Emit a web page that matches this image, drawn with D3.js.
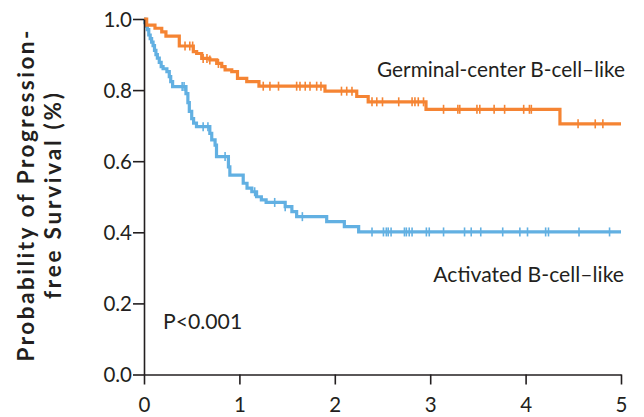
<!DOCTYPE html>
<html>
<head>
<meta charset="utf-8">
<script src="https://cdn.jsdelivr.net/npm/d3@7"></script>
<style>
  body { margin: 0; background: #fff; }
  svg text { font-family: Lato, "Open Sans", sans-serif; fill: #231f20; }
</style>
</head>
<body>
<div id="chart"></div>
<script>
// Kaplan-Meier steps (years, survival)
var gcbTimes = [0, 0.028, 0.115, 0.186, 0.23, 0.37, 0.517, 0.552, 0.605, 0.69, 0.762, 0.815, 0.85, 0.92, 0.98, 1.077, 1.205, 1.897, 2.23, 2.35, 2.956, 4.36];
var gcbSurv  = [1.0, 0.983, 0.974, 0.964, 0.952, 0.924, 0.908, 0.903, 0.889, 0.885, 0.875, 0.866, 0.857, 0.852, 0.833, 0.824, 0.811, 0.797, 0.782, 0.767, 0.746, 0.705];
var gcbCensored = [0.43, 0.48, 0.51, 0.62, 0.66, 0.69, 0.78, 1.25, 1.32, 1.41, 1.60, 1.635, 1.69, 1.74, 1.81, 1.855,
  2.07, 2.125, 2.18, 2.39, 2.44, 2.50, 2.67, 2.81, 2.84, 2.875, 2.93, 3.14, 3.29, 3.31, 3.49, 3.52, 3.67, 3.78,
  3.98, 4.04, 4.06, 4.55, 4.73, 4.81];

var abcTimes = [0, 0.01, 0.02, 0.035, 0.05, 0.065, 0.08, 0.095, 0.11, 0.125, 0.14, 0.16, 0.18, 0.2, 0.24, 0.265, 0.28, 0.30,
  0.44, 0.46, 0.475, 0.50, 0.52, 0.55, 0.69, 0.71, 0.745, 0.76, 0.885, 0.90, 1.04, 1.08, 1.13, 1.18, 1.23, 1.28,
  1.48, 1.55, 1.60, 1.915, 2.10, 2.25];
var abcSurv  = [1.0, 0.99, 0.98, 0.97, 0.955, 0.945, 0.935, 0.925, 0.912, 0.9, 0.89, 0.878, 0.866, 0.86, 0.852, 0.838, 0.824, 0.81,
  0.79, 0.765, 0.74, 0.72, 0.707, 0.697, 0.678, 0.66, 0.645, 0.613, 0.584, 0.561, 0.538, 0.524, 0.514, 0.50, 0.491, 0.484,
  0.472, 0.458, 0.444, 0.43, 0.416, 0.401];
var abcCensored = [0.40, 0.42, 0.62, 0.67, 0.85, 1.16, 1.37, 1.48, 1.66, 2.39, 2.51, 2.54, 2.56, 2.59, 2.73, 2.75, 2.78, 2.81,
  2.96, 2.99, 3.14, 3.36, 3.43, 3.53, 3.76, 3.94, 4.02, 4.21, 4.24, 4.56, 4.88];

var xTicks = [0, 1, 2, 3, 4, 5];
var yTicks = [0, 0.2, 0.4, 0.6, 0.8, 1.0];
var maxYears = 5;

var svgWidth = 644;
var svgHeight = 417;

var margin = { top: 19, right: 23, bottom: 42.5, left: 144 };
var width = svgWidth - margin.left - margin.right;
var height = svgHeight - margin.top - margin.bottom;

var svg = d3.select("#chart")
  .append("svg")
  .attr("width", svgWidth)
  .attr("height", svgHeight);

var chartGroup = svg.append("g")
  .attr("transform", `translate(${margin.left}, ${margin.top})`);

var xScale = d3.scaleLinear().domain([0, maxYears]).range([0, width]);
var yScale = d3.scaleLinear().domain([0, 1]).range([height, 0]);

// survival value at time t (step function)
function survAt(times, surv, t) {
  var i = d3.bisectRight(times, t) - 1;
  return surv[Math.max(i, 0)];
}

var line = d3.line()
  .x(d => xScale(d[0]))
  .y(d => yScale(d[1]))
  .curve(d3.curveStepAfter);

function drawCurve(times, surv, censored, color) {
  var pts = times.map((t, i) => [t, surv[i]]);
  pts.push([maxYears, surv[surv.length - 1]]);

  chartGroup.append("path")
    .datum(pts)
    .attr("fill", "none")
    .attr("stroke", color)
    .attr("stroke-width", 3.2)
    .attr("d", line);

  chartGroup.selectAll(null)
    .data(censored)
    .enter()
    .append("line")
    .attr("x1", d => xScale(d))
    .attr("x2", d => xScale(d))
    .attr("y1", d => yScale(survAt(times, surv, d)) - 4.5)
    .attr("y2", d => yScale(survAt(times, surv, d)) + 4.5)
    .attr("stroke", color)
    .attr("stroke-width", 1.6);
}

drawCurve(abcTimes, abcSurv, abcCensored, "#62b0e2");
drawCurve(gcbTimes, gcbSurv, gcbCensored, "#f58433");

// axes
var bottomAxis = d3.axisBottom(xScale)
  .tickValues(xTicks)
  .tickFormat(d3.format("d"))
  .tickSize(10)
  .tickSizeOuter(0);

var leftAxis = d3.axisLeft(yScale)
  .tickValues(yTicks)
  .tickFormat(d3.format(".1f"))
  .tickSize(11)
  .tickSizeOuter(0);

var xAxis = chartGroup.append("g")
  .attr("transform", `translate(0, ${height})`)
  .call(bottomAxis);

var yAxis = chartGroup.append("g")
  .call(leftAxis);

[xAxis, yAxis].forEach(function(ax) {
  ax.select(".domain").attr("stroke", "#231f20").attr("stroke-width", 1.6);
  ax.selectAll(".tick line").attr("stroke", "#231f20").attr("stroke-width", 1.6);
  ax.selectAll(".tick text")
    .attr("font-size", "20.5px")
    .attr("fill", "#231f20")
    .style("font-family", "Lato, sans-serif");
});

xAxis.selectAll(".tick text").attr("dy", 0).attr("y", 37.5);
yAxis.selectAll(".tick text").attr("x", -12).attr("dy", "0.36em");

// y axis title
var yTitle = svg.append("text")
  .attr("transform", "translate(0, 196) rotate(-90)")
  .attr("text-anchor", "middle")
  .attr("font-size", "22.5px")
  .attr("font-weight", "bold");

yTitle.append("tspan").attr("x", 0).attr("y", 34)
  .attr("textLength", 331).attr("lengthAdjust", "spacing")
  .text("Probability of Progression-");
yTitle.append("tspan").attr("x", 0).attr("y", 61)
  .attr("textLength", 206).attr("lengthAdjust", "spacing")
  .text("free Survival (%)");

// curve labels
chartGroup.append("text")
  .attr("x", width + 4)
  .attr("y", 77 - margin.top)
  .attr("text-anchor", "end")
  .attr("font-size", "20.8px")
  .text("Germinal-center B-cell\u2013like");

chartGroup.append("text")
  .attr("x", width + 3)
  .attr("y", 282 - margin.top)
  .attr("text-anchor", "end")
  .attr("font-size", "21.2px")
  .text("Activated B-cell\u2013like");

chartGroup.append("text")
  .attr("x", 163 - margin.left)
  .attr("y", 329 - margin.top)
  .attr("font-size", "21.2px")
  .text("P<0.001");
</script>
</body>
</html>
